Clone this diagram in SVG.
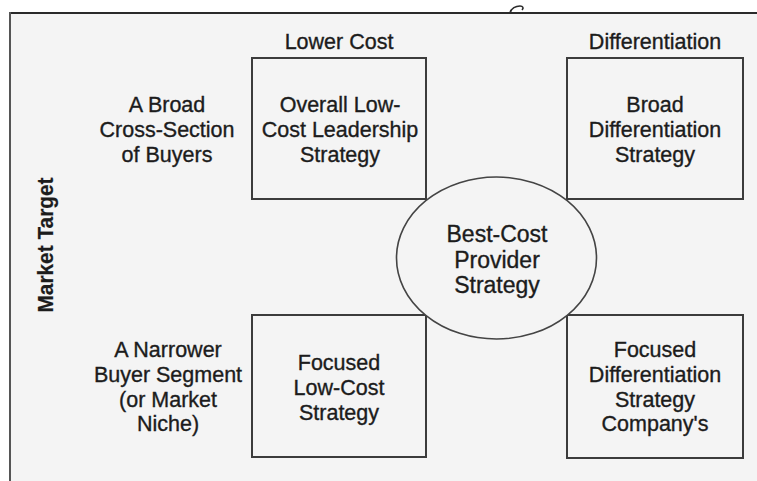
<svg xmlns="http://www.w3.org/2000/svg" width="757" height="481" viewBox="0 0 757 481">
<style>
text{font-family:"Liberation Sans",Arial,sans-serif;font-size:21.5px;fill:#1c1c1c;stroke:#1c1c1c;stroke-width:0.35;text-anchor:middle}
.box{fill:none;stroke:#3c3c3c;stroke-width:2}
.ell{fill:#f4f4f4;stroke:#444;stroke-width:1.6}
.big{font-size:23px}
.axis{font-weight:bold;font-size:22px;stroke-width:0.2}
</style>
<rect x="0" y="0" width="757" height="481" fill="#ffffff"/>
<rect x="10" y="13" width="747" height="468" fill="#f4f4f4"/>
<g id="frame" fill="none" stroke="#2a2a2a">
<line x1="9" y1="13" x2="757" y2="13" stroke-width="2.2"/>
<line x1="10" y1="12" x2="10" y2="481" stroke-width="2" stroke="#555"/>
<path d="M510,13 C511,8 516,6 520,6 C523,6 524,8 522,10" stroke-width="1.6"/>
</g>
<g id="column-headers">
<text x="339" y="49">Lower Cost</text>
<text x="655" y="49">Differentiation</text>
</g>
<g id="row-headers">
<text x="167" y="112">A Broad</text>
<text x="167" y="137">Cross-Section</text>
<text x="167" y="162">of Buyers</text>
<text x="168" y="357">A Narrower</text>
<text x="168" y="382">Buyer Segment</text>
<text x="168" y="407">(or Market</text>
<text x="168" y="431">Niche)</text>
</g>
<g id="axis-label">
<text class="axis" transform="translate(53,245) rotate(-90)" x="0" y="0" textLength="135" lengthAdjust="spacingAndGlyphs">Market Target</text>
</g>
<g id="overall-low-cost">
<rect class="box" x="252" y="58" width="174" height="141"/>
<text x="340" y="112">Overall Low-</text>
<text x="340" y="137">Cost Leadership</text>
<text x="340" y="162">Strategy</text>
</g>
<g id="broad-differentiation">
<rect class="box" x="567" y="58" width="176" height="141"/>
<text x="655" y="112">Broad</text>
<text x="655" y="137">Differentiation</text>
<text x="655" y="162">Strategy</text>
</g>
<g id="focused-low-cost">
<rect class="box" x="252" y="315" width="174" height="142"/>
<text x="339" y="370">Focused</text>
<text x="339" y="395">Low-Cost</text>
<text x="339" y="420">Strategy</text>
</g>
<g id="focused-differentiation">
<rect class="box" x="567" y="315" width="176" height="143"/>
<text x="655" y="357">Focused</text>
<text x="655" y="382">Differentiation</text>
<text x="655" y="407">Strategy</text>
<text x="655" y="431">Company's</text>
</g>
<g id="best-cost-provider">
<ellipse class="ell" cx="496.5" cy="258" rx="100" ry="81"/>
<text class="big" x="497" y="242">Best-Cost</text>
<text class="big" x="497" y="268">Provider</text>
<text class="big" x="497" y="293">Strategy</text>
</g>
<g id="connectors"></g>
</svg>
